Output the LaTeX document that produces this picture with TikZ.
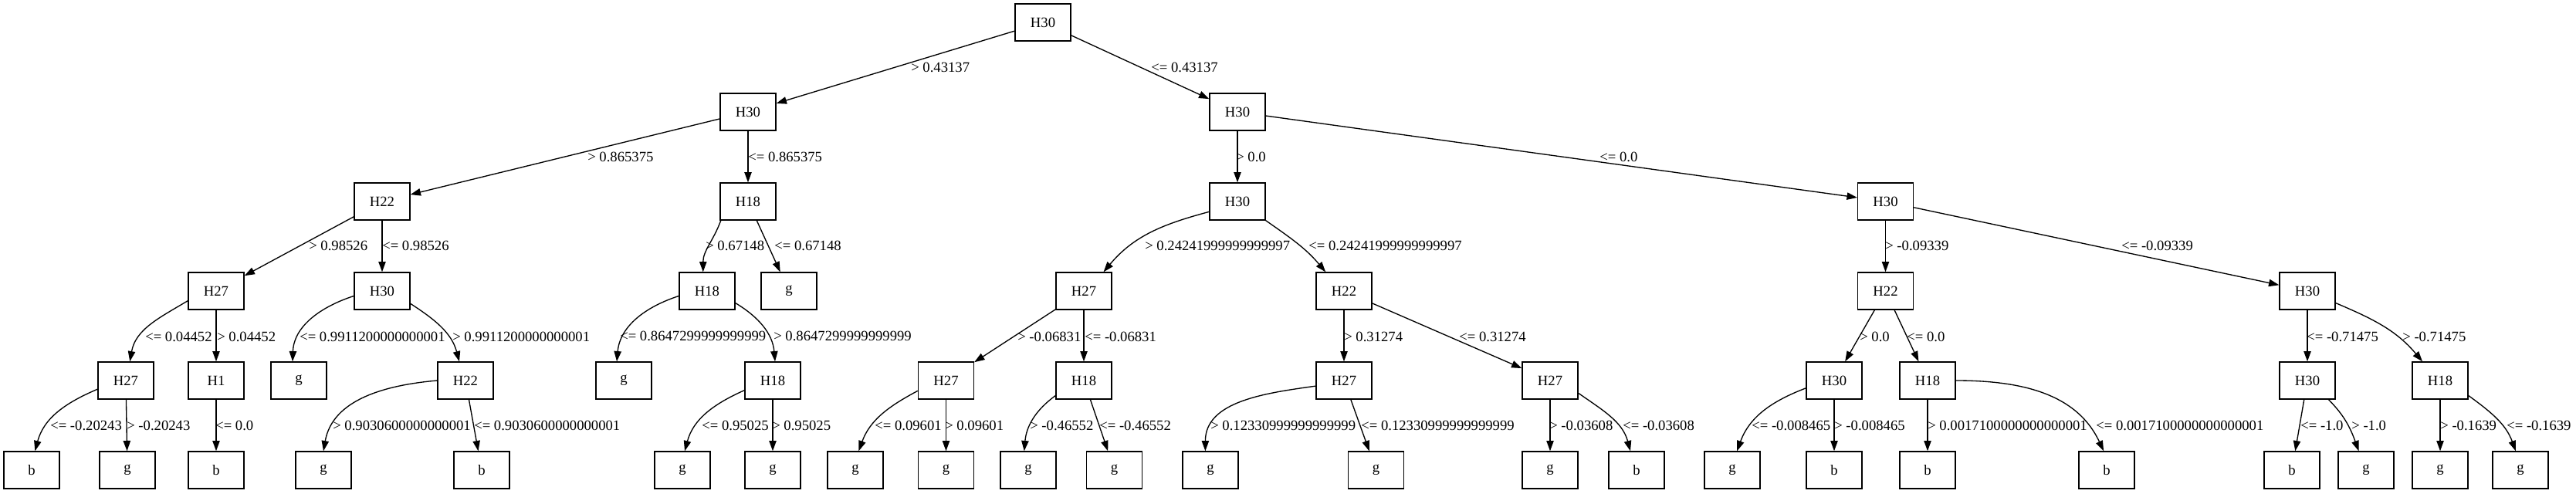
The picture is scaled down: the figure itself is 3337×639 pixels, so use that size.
\documentclass[tikz,border=0pt]{standalone}
\usepackage{fontspec}
\setmainfont{Liberation Serif}
\usetikzlibrary{arrows.meta}
\begin{document}
\begin{tikzpicture}[x=0.75pt,y=0.75pt,
  box/.style={draw, line width=1pt, minimum width=54pt, minimum height=36pt, inner sep=0pt, font=\fontsize{14}{16}\selectfont},
  edge/.style={line width=1pt, -{Triangle[length=10pt,width=7pt]}},
  lab/.style={anchor=west, inner sep=0pt, font=\fontsize{14}{16}\selectfont}]
\useasboundingbox (0,0) rectangle (3337,-639);
% level 0
\node[box] (n0) at (1351,-29) {H30};
% level 1
\node[box] (n1) at (969,-145) {H30};
\node[box] (n2) at (1603,-145) {H30};
% level 2
\node[box] (n3) at (495,-261) {H22};
\node[box] (n4) at (969,-261) {H18};
\node[box] (n5) at (1603,-261) {H30};
\node[box] (n6) at (2442.5,-261) {H30};
% level 3
\node[box] (n7) at (280,-377) {H27};
\node[box] (n8) at (495,-377) {H30};
\node[box] (n9) at (916,-377) {H18};
\node[box] (n10) at (1022,-377) {g};
\node[box] (n11) at (1404,-377) {H27};
\node[box] (n12) at (1741,-377) {H22};
\node[box] (n13) at (2442.5,-377) {H22};
\node[box] (n14) at (2989,-377) {H30};
% level 4
\node[box] (n15) at (163,-493) {H27};
\node[box] (n16) at (280,-493) {H1};
\node[box] (n17) at (387,-493) {g};
\node[box] (n18) at (603,-493) {H22};
\node[box] (n19) at (808,-493) {g};
\node[box] (n20) at (1001,-493) {H18};
\node[box] (n21) at (1225.5,-493) {H27};
\node[box] (n22) at (1404,-493) {H18};
\node[box] (n23) at (1741,-493) {H27};
\node[box] (n24) at (2008,-493) {H27};
\node[box] (n25) at (2376,-493) {H30};
\node[box] (n26) at (2497,-493) {H18};
\node[box] (n27) at (2989,-493) {H30};
\node[box] (n28) at (3161,-493) {H18};
% level 5
\node[box] (l1) at (41,-609) {b};
\node[box] (l2) at (165,-609) {g};
\node[box] (l3) at (280,-609) {b};
\node[box] (l4) at (419,-609) {g};
\node[box] (l5) at (624,-609) {b};
\node[box] (l6) at (884,-609) {g};
\node[box] (l7) at (1001,-609) {g};
\node[box] (l8) at (1108,-609) {g};
\node[box] (l9) at (1225.5,-609) {g};
\node[box] (l10) at (1332,-609) {g};
\node[box] (l11) at (1443.6,-609) {g};
\node[box] (l12) at (1568,-609) {g};
\node[box] (l13) at (1782.6,-609) {g};
\node[box] (l14) at (2008,-609) {g};
\node[box] (l15) at (2120,-609) {b};
\node[box] (l16) at (2244,-609) {g};
\node[box] (l17) at (2376,-609) {b};
\node[box] (l18) at (2497,-609) {b};
\node[box] (l19) at (2729,-609) {b};
\node[box] (l20) at (2969,-609) {b};
\node[box] (l21) at (3065,-609) {g};
\node[box] (l22) at (3161,-609) {g};
\node[box] (l23) at (3265,-609) {g};
% straight edges
\draw[edge] (n0) -- (n1);
\draw[edge] (n0) -- (n2);
\draw[edge] (n1) -- (n3);
\draw[edge] (n1) -- (n4);
\draw[edge] (n3) -- (n7);
\draw[edge] (n3) -- (n8);
\draw[edge] (n4) -- (n10);
\draw[edge] (n7) -- (n16);
\draw[edge] (n2) -- (n5);
\draw[edge] (n2) -- (n6);
\draw[edge] (n11) -- (n21);
\draw[edge] (n11) -- (n22);
\draw[edge] (n12) -- (n23);
\draw[edge] (n12) -- (n24);
\draw[edge] (n6) -- (n13);
\draw[edge] (n6) -- (n14);
\draw[edge] (n13) -- (n25);
\draw[edge] (n13) -- (n26);
\draw[edge] (n14) -- (n27);
\draw[edge] (n15) -- (l2);
\draw[edge] (n16) -- (l3);
\draw[edge] (n18) -- (l5);
\draw[edge] (n20) -- (l7);
\draw[edge] (n21) -- (l9);
\draw[edge] (n22) -- (l11);
\draw[edge] (n23) -- (l13);
\draw[edge] (n24) -- (l14);
\draw[edge] (n25) -- (l17);
\draw[edge] (n26) -- (l18);
\draw[edge] (n27) -- (l20);
\draw[edge] (n28) -- (l22);
% curved edges
\draw[edge] (n4.215) to[out=250,in=90] (n9.102);
\draw[edge] (n7.199) to[out=211,in=80] (n15.78);
\draw[edge] (n8.190) to[out=198,in=88] (n17.108);
\draw[edge] (n8.-24) to[out=-33,in=105] (n18.108);
\draw[edge] (n9.190) to[out=198,in=85] (n19.110);
\draw[edge] (n9.-23) to[out=-31,in=95] (n20.83);
\draw[edge] (n15.197) to[out=203,in=75] (l1.80);
\draw[edge] (n18.west) to[out=185,in=80] (l4.north);
\draw[edge] (n20.199) to[out=204,in=75] (l6.83);
\draw[edge] (n5.200) to[out=195,in=50] (n11.44);
\draw[edge] (n5.south east) to[out=-35,in=130] (n12.134);
\draw[edge] (n21.200) to[out=208,in=70] (l8.80);
\draw[edge] (n22.208) to[out=216,in=85] (l10.102);
\draw[edge] (n23.191) to[out=188,in=90] (l12.105);
\draw[edge] (n24.-24) to[out=-35,in=105] (l15.108);
\draw[edge] (n14.-23) to[out=-23,in=130] (n28.133);
\draw[edge] (n25.195) to[out=201,in=70] (l16.76);
\draw[edge] (n26.east) to[out=0,in=115] (l19.99);
\draw[edge] (n27.-42) to[out=-45,in=110] (l21.111);
\draw[edge] (n28.-28) to[out=-36,in=110] (l23.104);
% labels
\node[lab] (t1) at (1180,-87) {> 0.43137};
\node[lab] (t2) at (1491,-87) {<= 0.43137};
\node[lab] (t3) at (761,-203) {> 0.865375};
\node[lab] (t4) at (969,-203) {<= 0.865375};
\node[lab] (t5) at (400,-318) {> 0.98526};
\node[lab] (t6) at (495,-318) {<= 0.98526};
\node[lab] (t7) at (914,-318) {> 0.67148};
\node[lab] (t8) at (1003,-318) {<= 0.67148};
\node[lab] (t9) at (188,-436) {<= 0.04452};
\node[lab] (t10) at (281,-436) {> 0.04452};
\node[lab] (t11) at (388,-436) {<= 0.9911200000000001};
\node[lab] (t12) at (586,-436) {> 0.9911200000000001};
\node[lab] (t13) at (803,-435) {<= 0.8647299999999999};
\node[lab] (t14) at (1002,-435) {> 0.8647299999999999};
\node[lab] (t15) at (65,-551) {<= -0.20243};
\node[lab] (t16) at (164,-551) {> -0.20243};
\node[lab] (t17) at (279,-551) {<= 0.0};
\node[lab] (t18) at (431,-551) {> 0.9030600000000001};
\node[lab] (t19) at (614,-551) {<= 0.9030600000000001};
\node[lab] (t20) at (909,-551) {<= 0.95025};
\node[lab] (t21) at (1000,-551) {> 0.95025};
\node[lab] (t22) at (1601,-203) {> 0.0};
\node[lab] (t23) at (2072,-203) {<= 0.0};
\node[lab] (t24) at (1483,-318) {> 0.24241999999999997};
\node[lab] (t25) at (1695,-318) {<= 0.24241999999999997};
\node[lab] (t26) at (1318,-436) {> -0.06831};
\node[lab] (t27) at (1405,-436) {<= -0.06831};
\node[lab] (t28) at (1741,-436) {> 0.31274};
\node[lab] (t29) at (1890,-436) {<= 0.31274};
\node[lab] (t30) at (1133,-551) {<= 0.09601};
\node[lab] (t31) at (1224,-551) {> 0.09601};
\node[lab] (t32) at (1334,-551) {> -0.46552};
\node[lab] (t33) at (1424,-551) {<= -0.46552};
\node[lab] (t34) at (1568,-551) {> 0.12330999999999999};
\node[lab] (t35) at (1763,-551) {<= 0.12330999999999999};
\node[lab] (t36) at (2007,-551) {> -0.03608};
\node[lab] (t37) at (2102,-551) {<= -0.03608};
\node[lab] (t38) at (2442,-318) {> -0.09339};
\node[lab] (t39) at (2748,-318) {<= -0.09339};
\node[lab] (t40) at (2409,-436) {> 0.0};
\node[lab] (t41) at (2470,-436) {<= 0.0};
\node[lab] (t42) at (2988,-436) {<= -0.71475};
\node[lab] (t43) at (3112,-436) {> -0.71475};
\node[lab] (t44) at (2269,-551) {<= -0.008465};
\node[lab] (t45) at (2376,-551) {> -0.008465};
\node[lab] (t46) at (2497,-551) {> 0.0017100000000000001};
\node[lab] (t47) at (2715,-551) {<= 0.0017100000000000001};
\node[lab] (t48) at (2980,-551) {<= -1.0};
\node[lab] (t49) at (3046,-551) {> -1.0};
\node[lab] (t50) at (3161,-551) {> -0.1639};
\node[lab] (t51) at (3247,-551) {<= -0.1639};
\end{tikzpicture}
\end{document}
